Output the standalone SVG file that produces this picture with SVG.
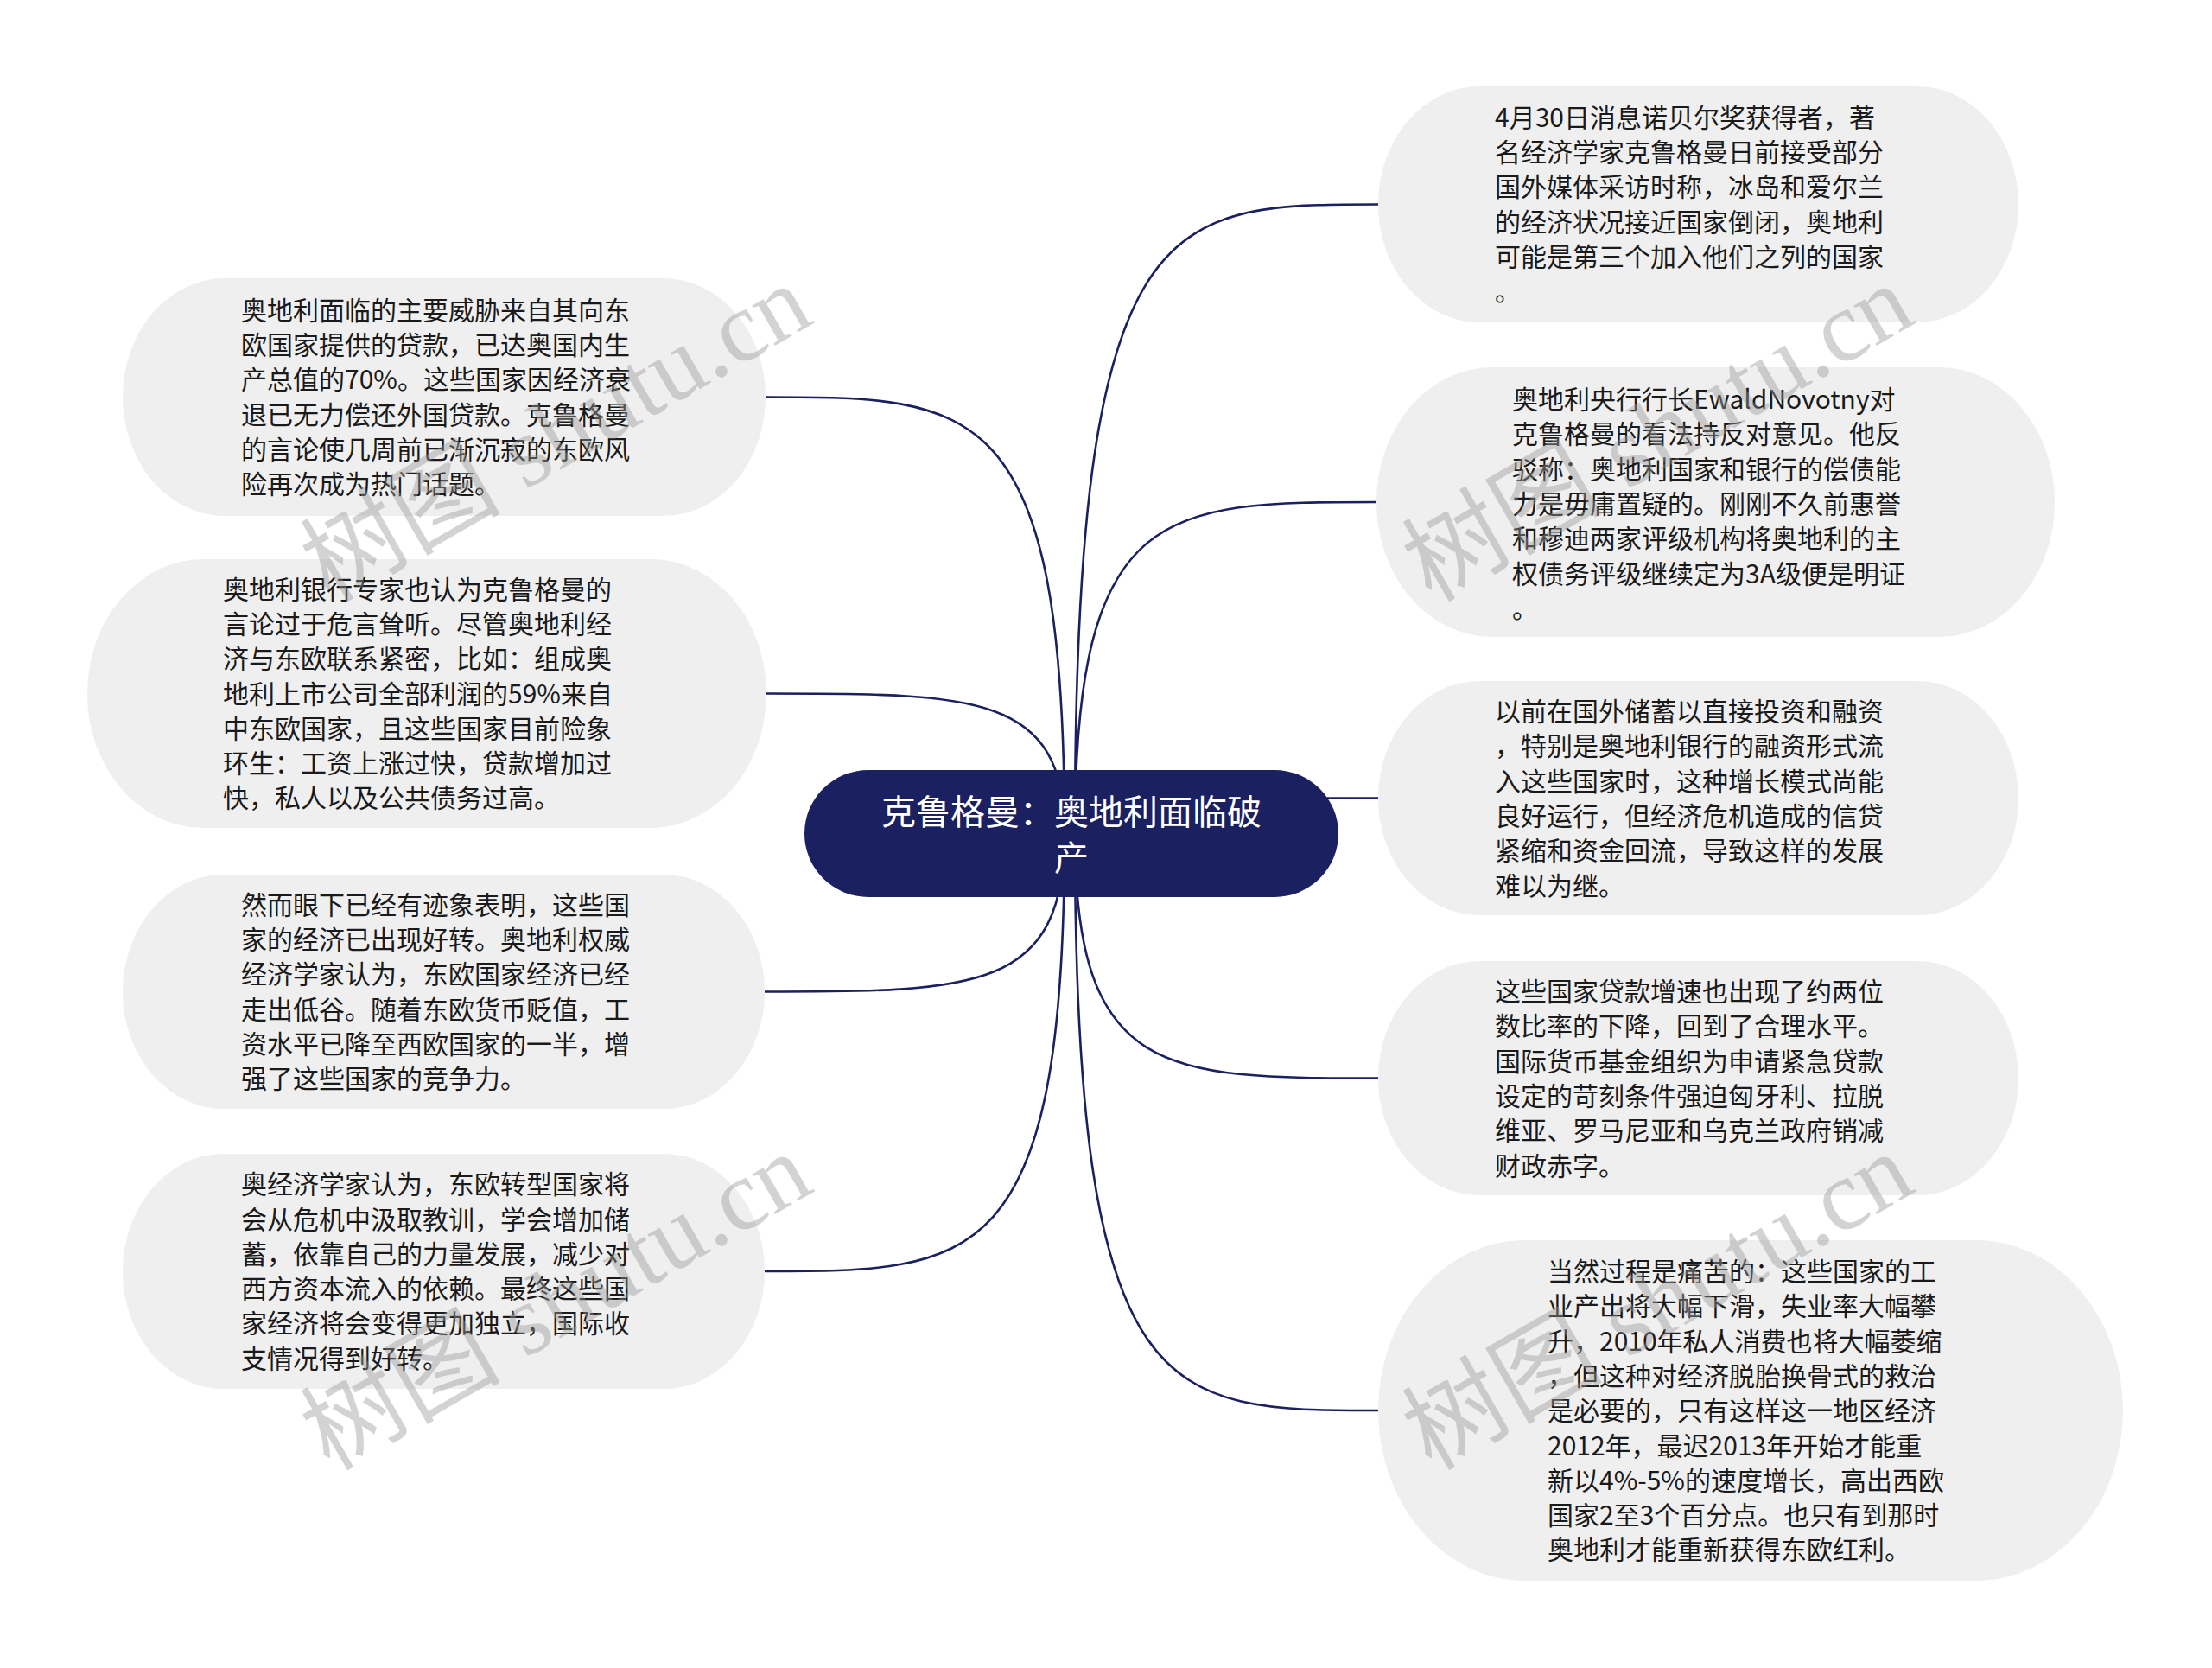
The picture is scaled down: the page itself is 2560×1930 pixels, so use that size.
<svg xmlns="http://www.w3.org/2000/svg" width="2560" height="1930" viewBox="0 0 2560 1930">
<style>
.bg{fill:#ffffff}
.sub{fill:#efefef}
.t{font-family:"Noto Sans CJK SC","Noto Sans",sans-serif;font-size:30px;fill:#1a1a1a}
.root{fill:#1b2061}
.rt{font-family:"Noto Sans CJK SC","Noto Sans",sans-serif;font-size:40px;fill:#ffffff;text-anchor:middle}
.c{fill:none;stroke:#1b2061;stroke-width:2.6}
.wm{font-family:"Liberation Serif","Noto Sans CJK SC",serif;font-size:116px;fill:#999999;opacity:0.42;text-anchor:middle}
</style>
<rect class="bg" x="0" y="0" width="2560" height="1930"/>
<g id="connectors">
<path class="c" d="M1232 964 C1232 459.5 1128 459.5 886 459.5"/>
<path class="c" d="M1232 964 C1232 802.5 1128 802.5 887 802.5"/>
<path class="c" d="M1232 964 C1232 1147.5 1128 1147.5 885 1147.5"/>
<path class="c" d="M1232 964 C1232 1471 1128 1471 885 1471"/>
<path class="c" d="M1244 964 C1244 236.5 1349 236.5 1595 236.5"/>
<path class="c" d="M1244 964 C1244 581 1349 581 1593 581"/>
<path class="c" d="M1244 964 C1244 923.5 1349 923.5 1595 923.5"/>
<path class="c" d="M1244 964 C1244 1247.5 1349 1247.5 1595 1247.5"/>
<path class="c" d="M1244 964 C1244 1632 1349 1632 1595 1632"/>
</g>
<g id="root">
<rect class="root" x="931" y="891" width="618" height="147" rx="74" ry="73.5"/>
<text class="rt" x="1240" y="954">克鲁格曼：奥地利面临破</text>
<text class="rt" x="1240" y="1007">产</text>
</g>
<g id="node-l1">
<rect class="sub" x="142" y="322" width="744" height="275" rx="118" ry="137.5"/>
<text class="t" x="279" y="369.75"><tspan x="279">奥地利面临的主要威胁来自其向东</tspan><tspan x="279" dy="40.3">欧国家提供的贷款，已达奥国内生</tspan><tspan x="279" dy="40.3">产总值的70%。这些国家因经济衰</tspan><tspan x="279" dy="40.3">退已无力偿还外国贷款。克鲁格曼</tspan><tspan x="279" dy="40.3">的言论使几周前已渐沉寂的东欧风</tspan><tspan x="279" dy="40.3">险再次成为热门话题。</tspan></text>
</g>
<g id="node-l2">
<rect class="sub" x="101" y="647" width="786" height="311" rx="134" ry="155.5"/>
<text class="t" x="258" y="692.6"><tspan x="258">奥地利银行专家也认为克鲁格曼的</tspan><tspan x="258" dy="40.3">言论过于危言耸听。尽管奥地利经</tspan><tspan x="258" dy="40.3">济与东欧联系紧密，比如：组成奥</tspan><tspan x="258" dy="40.3">地利上市公司全部利润的59%来自</tspan><tspan x="258" dy="40.3">中东欧国家，且这些国家目前险象</tspan><tspan x="258" dy="40.3">环生：工资上涨过快，贷款增加过</tspan><tspan x="258" dy="40.3">快，私人以及公共债务过高。</tspan></text>
</g>
<g id="node-l3">
<rect class="sub" x="142" y="1012" width="743" height="271" rx="117" ry="135.5"/>
<text class="t" x="279" y="1057.75"><tspan x="279">然而眼下已经有迹象表明，这些国</tspan><tspan x="279" dy="40.3">家的经济已出现好转。奥地利权威</tspan><tspan x="279" dy="40.3">经济学家认为，东欧国家经济已经</tspan><tspan x="279" dy="40.3">走出低谷。随着东欧货币贬值，工</tspan><tspan x="279" dy="40.3">资水平已降至西欧国家的一半，增</tspan><tspan x="279" dy="40.3">强了这些国家的竞争力。</tspan></text>
</g>
<g id="node-l4">
<rect class="sub" x="142" y="1335" width="743" height="272" rx="117" ry="136"/>
<text class="t" x="279" y="1381.25"><tspan x="279">奥经济学家认为，东欧转型国家将</tspan><tspan x="279" dy="40.3">会从危机中汲取教训，学会增加储</tspan><tspan x="279" dy="40.3">蓄，依靠自己的力量发展，减少对</tspan><tspan x="279" dy="40.3">西方资本流入的依赖。最终这些国</tspan><tspan x="279" dy="40.3">家经济将会变得更加独立，国际收</tspan><tspan x="279" dy="40.3">支情况得到好转。</tspan></text>
</g>
<g id="node-r1">
<rect class="sub" x="1595" y="100" width="741" height="273" rx="117" ry="136.5"/>
<text class="t" x="1730" y="146.75"><tspan x="1730">4月30日消息诺贝尔奖获得者，著</tspan><tspan x="1730" dy="40.3">名经济学家克鲁格曼日前接受部分</tspan><tspan x="1730" dy="40.3">国外媒体采访时称，冰岛和爱尔兰</tspan><tspan x="1730" dy="40.3">的经济状况接近国家倒闭，奥地利</tspan><tspan x="1730" dy="40.3">可能是第三个加入他们之列的国家</tspan><tspan x="1730" dy="40.3">。</tspan></text>
</g>
<g id="node-r2">
<rect class="sub" x="1593" y="425" width="785" height="312" rx="134" ry="156"/>
<text class="t" x="1750" y="473"><tspan x="1750">奥地利央行行长EwaldNovotny对</tspan><tspan x="1750" dy="40.3">克鲁格曼的看法持反对意见。他反</tspan><tspan x="1750" dy="40.3">驳称：奥地利国家和银行的偿债能</tspan><tspan x="1750" dy="40.3">力是毋庸置疑的。刚刚不久前惠誉</tspan><tspan x="1750" dy="40.3">和穆迪两家评级机构将奥地利的主</tspan><tspan x="1750" dy="40.3">权债务评级继续定为3A级便是明证</tspan><tspan x="1750" dy="40.3">。</tspan></text>
</g>
<g id="node-r3">
<rect class="sub" x="1595" y="788" width="741" height="271" rx="117" ry="135.5"/>
<text class="t" x="1730" y="834"><tspan x="1730">以前在国外储蓄以直接投资和融资</tspan><tspan x="1730" dy="40.3">，特别是奥地利银行的融资形式流</tspan><tspan x="1730" dy="40.3">入这些国家时，这种增长模式尚能</tspan><tspan x="1730" dy="40.3">良好运行，但经济危机造成的信贷</tspan><tspan x="1730" dy="40.3">紧缩和资金回流，导致这样的发展</tspan><tspan x="1730" dy="40.3">难以为继。</tspan></text>
</g>
<g id="node-r4">
<rect class="sub" x="1595" y="1112" width="741" height="271" rx="117" ry="135.5"/>
<text class="t" x="1730" y="1158"><tspan x="1730">这些国家贷款增速也出现了约两位</tspan><tspan x="1730" dy="40.3">数比率的下降，回到了合理水平。</tspan><tspan x="1730" dy="40.3">国际货币基金组织为申请紧急贷款</tspan><tspan x="1730" dy="40.3">设定的苛刻条件强迫匈牙利、拉脱</tspan><tspan x="1730" dy="40.3">维亚、罗马尼亚和乌克兰政府销减</tspan><tspan x="1730" dy="40.3">财政赤字。</tspan></text>
</g>
<g id="node-r5">
<rect class="sub" x="1595" y="1435" width="862" height="394" rx="170" ry="197"/>
<text class="t" x="1791" y="1482"><tspan x="1791">当然过程是痛苦的：这些国家的工</tspan><tspan x="1791" dy="40.3">业产出将大幅下滑，失业率大幅攀</tspan><tspan x="1791" dy="40.3">升，2010年私人消费也将大幅萎缩</tspan><tspan x="1791" dy="40.3">，但这种对经济脱胎换骨式的救治</tspan><tspan x="1791" dy="40.3">是必要的，只有这样这一地区经济</tspan><tspan x="1791" dy="40.3">2012年，最迟2013年开始才能重</tspan><tspan x="1791" dy="40.3">新以4%-5%的速度增长，高出西欧</tspan><tspan x="1791" dy="40.3">国家2至3个百分点。也只有到那时</tspan><tspan x="1791" dy="40.3">奥地利才能重新获得东欧红利。</tspan></text>
</g>
<g id="watermarks">
<text class="wm" transform="translate(663,535) rotate(-30)">树图 shutu.cn</text>
<text class="wm" transform="translate(1938,535) rotate(-30)">树图 shutu.cn</text>
<text class="wm" transform="translate(663,1540) rotate(-30)">树图 shutu.cn</text>
<text class="wm" transform="translate(1938,1540) rotate(-30)">树图 shutu.cn</text>
</g>
</svg>
